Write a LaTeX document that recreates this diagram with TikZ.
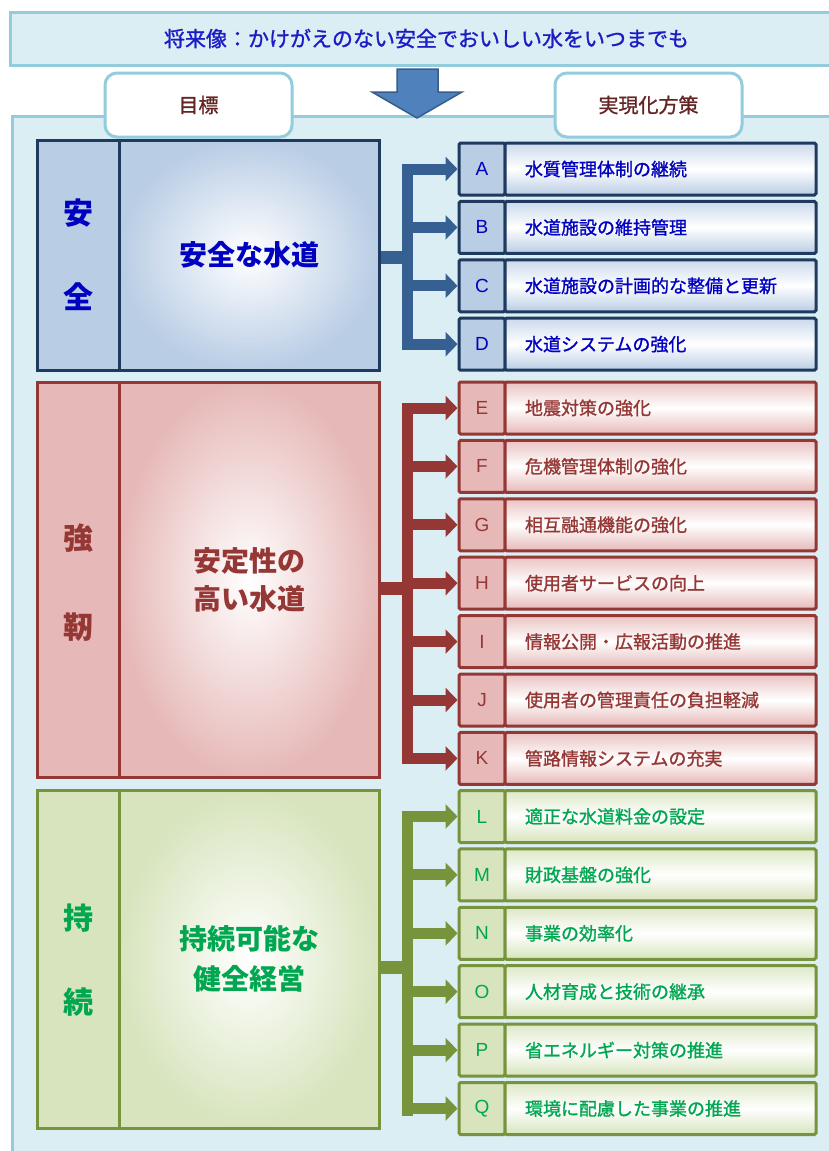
\documentclass[tikz,border=0pt]{standalone}
\usepackage{fontspec}
\setmainfont{Noto Sans CJK JP}
\newfontfamily\jpfb[FakeBold=1.2]{Noto Sans CJK JP}
\newfontfamily\latinf{Liberation Sans}
\usetikzlibrary{arrows.meta,calc}
\definecolor{bgpanel}{HTML}{DAEEF3}
\definecolor{panelborder}{HTML}{93CDDD}
\definecolor{bannertext}{HTML}{1C1CC4}
\definecolor{tabtext}{HTML}{632523}
\definecolor{arrowfill}{HTML}{4F81BD}
\definecolor{arrowdraw}{HTML}{385D8A}
\definecolor{bB}{HTML}{1F3A5F}
\definecolor{bF}{HTML}{B9CDE5}
\definecolor{bT}{HTML}{0000C0}
\definecolor{bC}{HTML}{376092}
\definecolor{rB}{HTML}{953735}
\definecolor{rF}{HTML}{E6B9B8}
\definecolor{rT}{HTML}{953735}
\definecolor{gB}{HTML}{77933C}
\definecolor{gF}{HTML}{D7E4BD}
\definecolor{gT}{HTML}{00A650}
\begin{document}
\begin{tikzpicture}[x=1pt,y=-1pt,
  sidecell/.style={draw, line width=3pt, minimum width=82pt, inner sep=0pt},
  maincell/.style={draw, line width=3pt, minimum width=260pt, inner sep=0pt, align=center, font=\fontsize{28}{40}\selectfont\bfseries},
  sidechar/.style={font=\fontsize{30}{32}\selectfont\bfseries, inner sep=0pt},
  letcell/.style={draw, line width=3pt, minimum width=46pt, minimum height=52pt, rounded corners=1.5pt, inner sep=0pt, font=\latinf\fontsize{19}{21}\selectfont},
  txtcell/.style={draw, line width=3pt, minimum height=52pt, text width=271pt, inner xsep=20pt, inner ysep=0pt, align=left, rounded corners=1.5pt, font=\jpfb\fontsize{18}{20}\selectfont},
  tab/.style={draw=panelborder, line width=3pt, fill=white, rounded corners=12pt, minimum width=187pt, minimum height=64pt, text=tabtext, font=\jpfb\fontsize{20}{22}\selectfont},
  bar/.style={line width=11pt},
  stub/.style={line width=13pt},
  branch/.style={line width=11pt, -{Triangle[length=12pt,width=24pt]}},
]
\useasboundingbox (0,0) rectangle (829,1151);
\fill[white] (0,0) rectangle (829,1151);
% panel
\draw[draw=panelborder, line width=3pt, fill=bgpanel] (12,116) rectangle (845,1165);
% banner
\node[draw=panelborder, line width=3pt, fill=bgpanel, minimum width=833pt, minimum height=53pt, text=bannertext, font=\jpfb\fontsize{21}{23}\selectfont] (banner) at (426.5,38.5) {将来像：かけがえのない安全でおいしい水をいつまでも};
% big arrow
\draw[fill=arrowfill, draw=arrowdraw, line width=1.5pt, line join=miter] (397,69) -- (438,69) -- (438,92) -- (462,92) -- (417,118) -- (372,92) -- (397,92) -- cycle;
% tabs
\node[tab] (tab1) at (198.5,105) {目標};
\node[tab] (tab2) at (648.5,105) {実現化方策};

% ===== blue section =====
\node[sidecell, draw=bB, fill=bF, minimum height=230pt] (bside) at (78,255) {};
\node[sidechar, text=bT] (bs1) at (78,213) {安};
\node[sidechar, text=bT] (bs2) at (78,297) {全};
\node[maincell, draw=bB, inner color=white, outer color=bF, minimum height=230pt, text=bT] (bmain) at (249,255) {安全な水道};
\coordinate (btr) at (402,0);
\coordinate (bmid) at (407.5,257);
\coordinate (btop) at (407.5,163.5);
\coordinate (bbot) at (407.5,349.5);
\draw[bar, bC] (btop) -- (bbot);
\draw[stub, bC] (bmain.east |- bmid) -- (bmid);
\foreach \l/\t [count=\i from 0] in {A/水質管理体制の継続,B/水道施設の維持管理,C/水道施設の計画的な整備と更新,D/水道システムの強化}{
  \node[letcell, draw=bB, fill=bF, text=bT] (l\l) at (482,169+\i*58.4) {\l};
  \node[txtcell, draw=bB, top color=bF!75, bottom color=bF, middle color=white, text=bT] (t\l) at (660.5,169+\i*58.4) {\t};
  \draw[branch, bC] (btr |- l\l.west) -- (l\l.west);
}

% ===== red section =====
\node[sidecell, draw=rB, fill=rF, minimum height=395pt] (rside) at (78,579.5) {};
\node[sidechar, text=rT] (rs1) at (78,538) {強};
\node[sidechar, text=rT] (rs2) at (78,627) {靭};
\node[maincell, draw=rB, inner color=white, outer color=rF, minimum height=395pt, text=rT] (rmain) at (249,579.5) {\raisebox{-2pt}{\shortstack{安定性の\\[8pt]高い水道}}};
\coordinate (rtr) at (402,0);
\coordinate (rmid) at (407.5,588);
\coordinate (rtop) at (407.5,402.5);
\coordinate (rbot) at (407.5,762);
\draw[bar, rB] (rtop) -- (rbot);
\draw[stub, rB] (rmain.east |- rmid) -- (rmid);
\foreach \l/\t [count=\i from 0] in {E/地震対策の強化,F/危機管理体制の強化,G/相互融通機能の強化,H/使用者サービスの向上,I/情報公開・広報活動の推進,J/使用者の管理責任の負担軽減,K/管路情報システムの充実}{
  \node[letcell, draw=rB, fill=rF, text=rT] (l\l) at (482,408+\i*58.4) {\l};
  \node[txtcell, draw=rB, top color=rF!85, bottom color=rF, middle color=white, text=rT] (t\l) at (660.5,408+\i*58.4) {\t};
  \draw[branch, rB] (rtr |- l\l.west) -- (l\l.west);
}

% ===== green section =====
\node[sidecell, draw=gB, fill=gF, minimum height=338pt] (gside) at (78,959) {};
\node[sidechar, text=gT] (gs1) at (78,918) {持};
\node[sidechar, text=gT] (gs2) at (78,1002) {続};
\node[maincell, draw=gB, inner color=white, outer color=gF, minimum height=338pt, text=gT] (gmain) at (249,959) {持続可能な\\健全経営};
\coordinate (gtr) at (402,0);
\coordinate (gmid) at (407.5,967);
\coordinate (gtop) at (407.5,811);
\coordinate (gbot) at (407.5,1116);
\draw[bar, gB] (gtop) -- (gbot);
\draw[stub, gB] (gmain.east |- gmid) -- (gmid);
\foreach \l/\t [count=\i from 0] in {L/適正な水道料金の設定,M/財政基盤の強化,N/事業の効率化,O/人材育成と技術の継承,P/省エネルギー対策の推進,Q/環境に配慮した事業の推進}{
  \node[letcell, draw=gB, fill=gF, text=gT] (l\l) at (482,816.5+\i*58.4) {\l};
  \node[txtcell, draw=gB, top color=gF!85, bottom color=gF, middle color=white, text=gT] (t\l) at (660.5,816.5+\i*58.4) {\t};
  \draw[branch, gB] (gtr |- l\l.west) -- (l\l.west);
}
\end{tikzpicture}
\end{document}
